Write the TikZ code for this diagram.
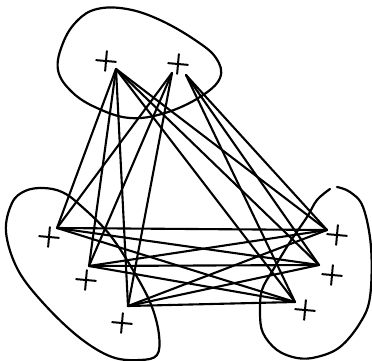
\documentclass[tikz,border=0pt]{standalone}
\usetikzlibrary{shapes.misc}
\begin{document}
\begin{tikzpicture}[x=1pt,y=-1pt,line join=round,line cap=round,
  blob/.style={line width=2.2pt},
  edge/.style={line width=2.1pt},
  crossmark/.style={cross out,draw,line width=2pt,minimum size=12pt,inner sep=0pt,rotate=40}]
\useasboundingbox (0,0) rectangle (372,361);
% blobs
\draw[blob] plot[smooth cycle,tension=0.65] coordinates {(58,70) (63,43) (77,21) (97,9) (127,9) (160,20) (195,40) (216,58) (220,78) (200,97) (165,113) (130,118) (97,108) (72,92)};
\draw[blob] plot[smooth cycle,tension=0.6] coordinates {(43,188) (62,192) (80,205) (110,235) (137,277) (152,307) (159,335) (157,355) (140,360) (112,357) (80,338) (45,305) (18,270) (6,232) (12,203) (25,191)};
\draw[blob] plot[smooth,tension=0.6] coordinates {(337,187) (350,192) (363,207) (371,247) (370,297) (360,323) (340,347) (317,357) (297,358) (277,350) (263,333) (260,313) (262,290) (273,270) (290,242) (307,217) (317,200) (330,189)};
% crosses
\node[crossmark] (x1) at (106,61) {};
\node[crossmark] (x2) at (178,64) {};
\node[crossmark] (x3) at (49,237) {};
\node[crossmark] (x4) at (86,280) {};
\node[crossmark] (x5) at (122,323) {};
\node[crossmark] (x6) at (337,235) {};
\node[crossmark] (x7) at (332,275) {};
\node[crossmark] (x8) at (305,310) {};
% vertices
\coordinate (T1) at (116,69);
\coordinate (T2a) at (172,73);
\coordinate (T2b) at (186,75);
\coordinate (L1) at (57,228);
\coordinate (L2) at (89,266);
\coordinate (L3) at (128,306);
\coordinate (R1) at (327,230);
\coordinate (R2) at (319,265);
\coordinate (R3) at (295,302);
% edges
\foreach \b in {L1,L2,L3,R1,R2,R3} \draw[edge] (T1) -- (\b);
\foreach \b in {L1,L2,L3} \draw[edge] (T2a) -- (\b);
\foreach \b in {R1,R2,R3} \draw[edge] (T2b) -- (\b);
\foreach \a in {L1,L2,L3} \foreach \b in {R1,R2,R3} \draw[edge] (\a) -- (\b);
\end{tikzpicture}
\end{document}
